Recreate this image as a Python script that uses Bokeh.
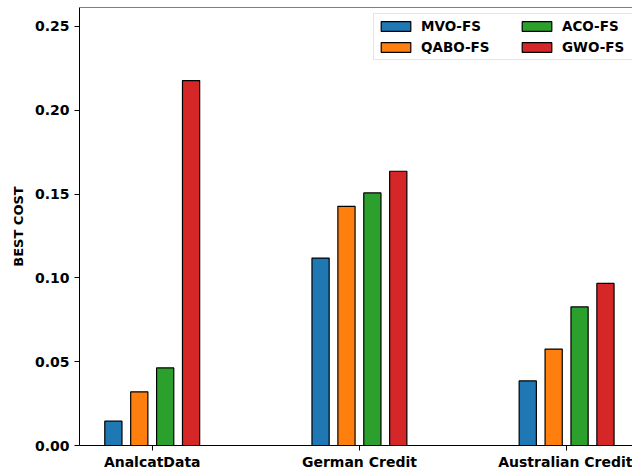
from bokeh.plotting import figure
from bokeh.models import (FixedTicker, NumeralTickFormatter, Span, Legend, LegendItem,
                          ColumnDataSource, Range1d)
from bokeh.transform import dodge
from bokeh.embed import file_html
from bokeh.resources import INLINE

# ---- data ----
categories = ["AnalcatData", "German Credit", "Australian Credit"]
series_names = ["MVO-FS", "QABO-FS", "ACO-FS", "GWO-FS"]
mvo_fs = [0.0145, 0.1118, 0.0385]
qabo_fs = [0.0320, 0.1427, 0.0575]
aco_fs = [0.0463, 0.1507, 0.0827]
gwo_fs = [0.2177, 0.1636, 0.0967]
y_ticks = [0.0, 0.05, 0.10, 0.15, 0.20, 0.25]

# ---- styling ----
colors = ["#1f77b4", "#ff7f0e", "#2ca02c", "#d62728"]
offsets = [-0.1875, -0.0625, 0.0625, 0.1875]
FONT = "DejaVu Sans"
Y_MAX = 0.2613

source = ColumnDataSource(dict(
    x=list(range(len(categories))),
    mvo=mvo_fs, qabo=qabo_fs, aco=aco_fs, gwo=gwo_fs,
))
cols = ["mvo", "qabo", "aco", "gwo"]

p = figure(width=632, height=472,
           x_range=Range1d(-0.351, 2.318), y_range=Range1d(0, Y_MAX),
           output_backend="svg", toolbar_location=None,
           min_border_left=79, min_border_right=0,
           min_border_top=7, min_border_bottom=0)
p.xgrid.visible = False
p.ygrid.visible = False
p.outline_line_color = None
p.background_fill_color = "white"
p.border_fill_color = "white"

items = []
for name, col, off, color in zip(series_names, cols, offsets, colors):
    r = p.vbar(x=dodge("x", off, range=p.x_range), top=col, bottom=0, width=0.083,
               source=source, fill_color=color, line_color="black", line_width=1.2)
    items.append(LegendItem(label=name, renderers=[r]))

# top spine
p.add_layout(Span(location=Y_MAX, dimension="width", line_color="black", line_width=1))

# x axis
xa = p.xaxis[0]
xa.ticker = FixedTicker(ticks=list(range(len(categories))))
xa.major_label_overrides = {i: c for i, c in enumerate(categories)}
xa.minor_tick_line_color = None
xa.major_tick_in = 0
xa.major_tick_out = 5
xa.major_label_standoff = 3
xa.major_label_text_font = FONT
xa.major_label_text_font_style = "bold"
xa.major_label_text_font_size = "14px"
xa.major_label_text_color = "black"
xa.axis_line_color = "black"
xa.major_tick_line_color = "black"

# y axis
ya = p.yaxis[0]
ya.ticker = FixedTicker(ticks=y_ticks)
ya.formatter = NumeralTickFormatter(format="0.00")
ya.minor_tick_line_color = None
ya.major_tick_in = 0
ya.major_tick_out = 5
ya.major_label_standoff = 5
ya.major_label_text_font = FONT
ya.major_label_text_font_style = "bold"
ya.major_label_text_font_size = "14px"
ya.major_label_text_color = "black"
ya.axis_line_color = "black"
ya.major_tick_line_color = "black"
ya.axis_label = "BEST COST"
ya.axis_label_text_font = FONT
ya.axis_label_text_font_style = "bold"
ya.axis_label_text_font_size = "13px"
ya.axis_label_text_color = "black"
ya.axis_label_standoff = 6

legend = Legend(items=items, ncols=2, location=(294, 385),
                label_text_font=FONT, label_text_font_style="bold",
                label_text_font_size="13.5px", label_text_color="black",
                glyph_width=37, glyph_height=12, label_height=18,
                label_standoff=7, label_width=94, spacing=3, padding=3, margin=0,
                border_line_color="#cccccc", border_line_width=1,
                background_fill_color="white", background_fill_alpha=0.8)
p.add_layout(legend)

open("out.html", "w").write(file_html(p, INLINE))
